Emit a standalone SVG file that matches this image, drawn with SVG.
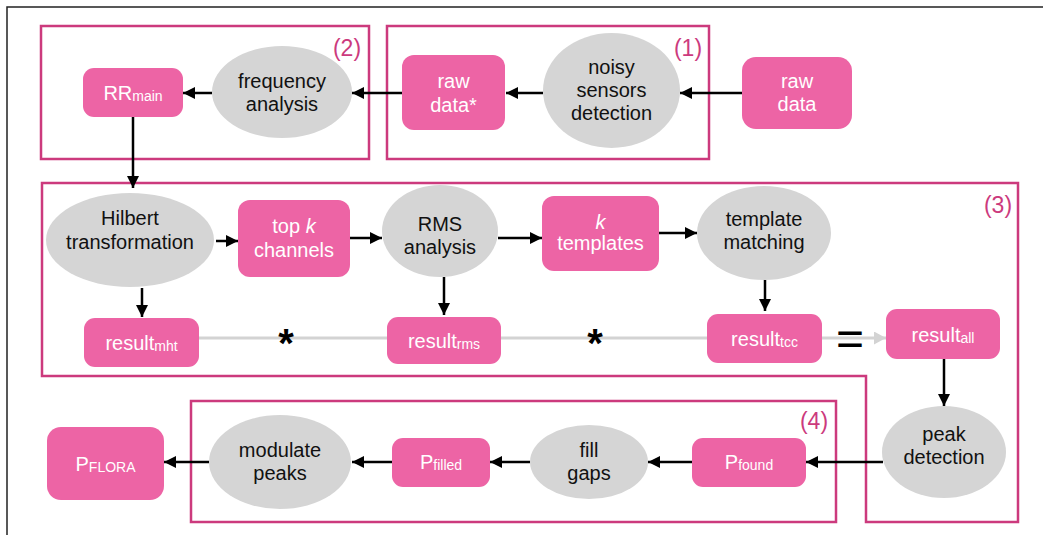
<svg xmlns="http://www.w3.org/2000/svg" width="1043" height="535" viewBox="0 0 1043 535">
  <defs>
    <style>
      .frame { fill: none; stroke: #222; stroke-width: 1.5; }
      .stage { fill: none; stroke: #cc3a7d; stroke-width: 2.5; }
      .stage-label { font-family: "Liberation Sans", Arial, sans-serif; font-size: 23px; fill: #cc3a7d; text-anchor: middle; }
      .data { fill: #ed64a5; }
      .proc { fill: #d5d5d5; }
      .t { font-family: "Liberation Sans", Arial, sans-serif; font-size: 20px; text-anchor: middle; }
      .tw { fill: #ffffff; }
      .tb { fill: #111111; }
      .sub { font-size: 14px; }
      .edge { fill: none; stroke: #000; stroke-width: 2.5; }
      .merge { fill: none; stroke: #d3d3d3; stroke-width: 3; }
      .op { font-family: "Liberation Sans", Arial, sans-serif; fill: #000; text-anchor: middle; }
    </style>
    <marker id="arrow" viewBox="0 0 12 12" refX="12" refY="6" markerWidth="12" markerHeight="12" markerUnits="userSpaceOnUse" orient="auto">
      <path d="M0,0 L12,6 L0,12 z" fill="#000"/>
    </marker>
    <marker id="arrow-grey" viewBox="0 0 12 13" refX="12" refY="6.5" markerWidth="12" markerHeight="13" markerUnits="userSpaceOnUse" orient="auto">
      <path d="M0,0 L12,6.5 L0,13 z" fill="#d3d3d3"/>
    </marker>
  </defs>

  <rect width="1043" height="535" fill="#ffffff"/>
  <path class="frame" d="M7,535 V7 H1043"/>

  <!-- pipeline stages -->
  <g id="stage-1">
    <rect class="stage" x="387" y="26" width="322" height="133"/>
    <text class="stage-label" x="688" y="56">(1)</text>
  </g>
  <g id="stage-2">
    <rect class="stage" x="41" y="26" width="328" height="133"/>
    <text class="stage-label" x="347" y="56">(2)</text>
  </g>
  <g id="stage-3">
    <path class="stage" d="M42,183 H1018 V522 H866 V376 H42 Z"/>
    <text class="stage-label" x="998" y="213">(3)</text>
  </g>
  <g id="stage-4">
    <rect class="stage" x="191" y="401" width="645" height="121"/>
    <text class="stage-label" x="814" y="429">(4)</text>
  </g>

  <!-- connectors -->
  <g id="connectors">
    <line class="merge" x1="199" y1="338" x2="707" y2="338"/>
    <line class="merge" x1="822" y1="338" x2="886" y2="338" marker-end="url(#arrow-grey)"/>
    <text class="op" x="286" y="357" font-size="40" font-weight="bold">*</text>
    <text class="op" x="595" y="357" font-size="40" font-weight="bold">*</text>
    <text class="op" x="850" y="355" font-size="48">=</text>

    <line class="edge" x1="742" y1="93" x2="680" y2="93" marker-end="url(#arrow)"/>
    <line class="edge" x1="543" y1="93" x2="506" y2="93" marker-end="url(#arrow)"/>
    <line class="edge" x1="402" y1="93" x2="352" y2="93" marker-end="url(#arrow)"/>
    <line class="edge" x1="212" y1="93" x2="183" y2="93" marker-end="url(#arrow)"/>
    <line class="edge" x1="133" y1="117" x2="133" y2="188" marker-end="url(#arrow)"/>
    <line class="edge" x1="216" y1="241" x2="238" y2="241" marker-end="url(#arrow)"/>
    <line class="edge" x1="350" y1="238" x2="382" y2="238" marker-end="url(#arrow)"/>
    <line class="edge" x1="498" y1="238" x2="542" y2="238" marker-end="url(#arrow)"/>
    <line class="edge" x1="659" y1="233" x2="697" y2="233" marker-end="url(#arrow)"/>
    <line class="edge" x1="142" y1="288" x2="142" y2="317" marker-end="url(#arrow)"/>
    <line class="edge" x1="444" y1="277" x2="444" y2="315" marker-end="url(#arrow)"/>
    <line class="edge" x1="765" y1="280" x2="765" y2="311" marker-end="url(#arrow)"/>
    <line class="edge" x1="944" y1="359" x2="944" y2="406" marker-end="url(#arrow)"/>
    <line class="edge" x1="883" y1="462" x2="806" y2="462" marker-end="url(#arrow)"/>
    <line class="edge" x1="692" y1="462" x2="648" y2="462" marker-end="url(#arrow)"/>
    <line class="edge" x1="530" y1="462" x2="490" y2="462" marker-end="url(#arrow)"/>
    <line class="edge" x1="392" y1="462" x2="352" y2="462" marker-end="url(#arrow)"/>
    <line class="edge" x1="209" y1="462" x2="164" y2="462" marker-end="url(#arrow)"/>
  </g>

  <!-- nodes -->
  <g id="raw-data">
    <rect class="data" x="742" y="57" width="110" height="72" rx="14"/>
    <text class="t tw" x="797" y="88">raw</text>
    <text class="t tw" x="797" y="111">data</text>
  </g>
  <g id="noisy-sensors-detection">
    <ellipse class="proc" cx="611.5" cy="90.5" rx="68.5" ry="57.5"/>
    <text class="t tb" x="611.5" y="74">noisy</text>
    <text class="t tb" x="611.5" y="97">sensors</text>
    <text class="t tb" x="611.5" y="120">detection</text>
  </g>
  <g id="raw-data-clean">
    <rect class="data" x="402" y="55" width="103" height="75" rx="12"/>
    <text class="t tw" x="453.5" y="88">raw</text>
    <text class="t tw" x="453.5" y="112">data*</text>
  </g>
  <g id="frequency-analysis">
    <ellipse class="proc" cx="282" cy="92" rx="70" ry="46"/>
    <text class="t tb" x="282" y="88">frequency</text>
    <text class="t tb" x="282" y="111">analysis</text>
  </g>
  <g id="rr-main">
    <rect class="data" x="83" y="68" width="100" height="49" rx="11"/>
    <text class="t tw" x="133" y="99.5">RR<tspan class="sub" dy="1">main</tspan></text>
  </g>
  <g id="hilbert-transformation">
    <ellipse class="proc" cx="130" cy="240" rx="84" ry="47"/>
    <text class="t tb" x="130" y="225">Hilbert</text>
    <text class="t tb" x="130" y="249">transformation</text>
  </g>
  <g id="top-k-channels">
    <rect class="data" x="238" y="200" width="112" height="77" rx="12"/>
    <text class="t tw" x="294" y="233">top <tspan font-style="italic">k</tspan></text>
    <text class="t tw" x="294" y="257">channels</text>
  </g>
  <g id="rms-analysis">
    <ellipse class="proc" cx="440" cy="231" rx="58" ry="46"/>
    <text class="t tb" x="440" y="231">RMS</text>
    <text class="t tb" x="440" y="254">analysis</text>
  </g>
  <g id="k-templates">
    <rect class="data" x="542" y="196" width="117" height="75" rx="12"/>
    <text class="t tw" x="600.5" y="229" font-style="italic">k</text>
    <text class="t tw" x="600.5" y="250">templates</text>
  </g>
  <g id="template-matching">
    <ellipse class="proc" cx="764" cy="233" rx="67" ry="47"/>
    <text class="t tb" x="764" y="226">template</text>
    <text class="t tb" x="764" y="249">matching</text>
  </g>
  <g id="result-mht">
    <rect class="data" x="84" y="318" width="115" height="49" rx="11"/>
    <text class="t tw" x="141.5" y="350">result<tspan class="sub" dy="1">mht</tspan></text>
  </g>
  <g id="result-rms">
    <rect class="data" x="387" y="317" width="114" height="47" rx="11"/>
    <text class="t tw" x="444" y="348">result<tspan class="sub" dy="1">rms</tspan></text>
  </g>
  <g id="result-tcc">
    <rect class="data" x="707" y="314" width="115" height="49" rx="11"/>
    <text class="t tw" x="764.5" y="346">result<tspan class="sub" dy="1">tcc</tspan></text>
  </g>
  <g id="result-all">
    <rect class="data" x="886" y="309" width="114" height="50" rx="11"/>
    <text class="t tw" x="943" y="342">result<tspan class="sub" dy="1">all</tspan></text>
  </g>
  <g id="peak-detection">
    <ellipse class="proc" cx="944" cy="452" rx="62" ry="46"/>
    <text class="t tb" x="944" y="441">peak</text>
    <text class="t tb" x="944" y="464">detection</text>
  </g>
  <g id="p-found">
    <rect class="data" x="692" y="438" width="114" height="49" rx="11"/>
    <text class="t tw" x="749" y="469">P<tspan class="sub" dy="1">found</tspan></text>
  </g>
  <g id="fill-gaps">
    <ellipse class="proc" cx="589" cy="462" rx="59" ry="37"/>
    <text class="t tb" x="589" y="457">fill</text>
    <text class="t tb" x="589" y="480">gaps</text>
  </g>
  <g id="p-filled">
    <rect class="data" x="392" y="438" width="98" height="49" rx="11"/>
    <text class="t tw" x="441" y="469">P<tspan class="sub" dy="1">filled</tspan></text>
  </g>
  <g id="modulate-peaks">
    <ellipse class="proc" cx="280" cy="462" rx="71" ry="47"/>
    <text class="t tb" x="280" y="457">modulate</text>
    <text class="t tb" x="280" y="480">peaks</text>
  </g>
  <g id="p-flora">
    <rect class="data" x="47" y="427" width="117" height="73" rx="14"/>
    <text class="t tw" x="105.5" y="471">P<tspan class="sub" dy="1">FLORA</tspan></text>
  </g>
</svg>
